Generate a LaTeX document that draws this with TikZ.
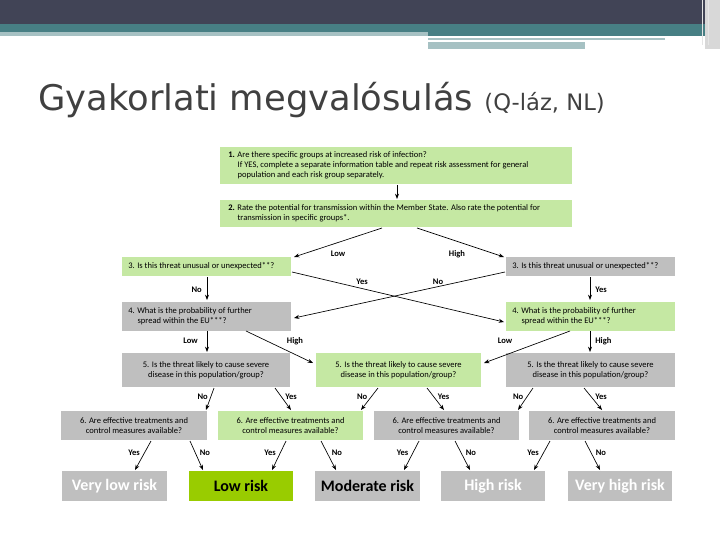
\documentclass[tikz,border=0pt]{standalone}
\usepackage{fontspec}
\setmainfont{Carlito}
\newfontfamily\titlefont{DejaVu Sans}
\usetikzlibrary{arrows.meta}
\definecolor{dk}{HTML}{414456}
\definecolor{teal}{HTML}{477F84}
\definecolor{lt}{HTML}{A6C1C3}
\definecolor{gr}{HTML}{C5E8A3}
\definecolor{gy}{HTML}{BFBFBF}
\definecolor{lime}{HTML}{99CC00}
\tikzset{
 gbox/.style={fill=gr,draw=none},
 ybox/.style={fill=gy,draw=none},
 bt/.style={font=\fontsize{6.4}{7.5}\selectfont,inner sep=0pt},
 ct/.style={font=\fontsize{6.4}{7.5}\selectfont,inner sep=0pt,align=center},
 lab/.style={font=\fontsize{6.4}{7}\selectfont\bfseries,inner sep=0pt},
 arr/.style={-{Stealth[length=4pt,width=3pt]},line width=0.5pt},
 risk/.style={font=\fontsize{12}{13}\selectfont\bfseries,inner sep=0pt}
}
\begin{document}
\begin{tikzpicture}[x=0.75pt,y=-0.75pt]
\useasboundingbox (0,0) rectangle (720,540);
% header
\fill[dk] (0,0) rectangle (720,24);
\fill[teal] (0,24) rectangle (720,32);
\fill[lt] (0,32) rectangle (428,36);
\fill[teal] (428,32) rectangle (720,36);
\fill[lt] (428,38) rectangle (665,40);
\fill[lt] (428,42) rectangle (585,49);
\fill[gy!60] (705,0) rectangle (720,49);
\draw[white!80!gray,line width=0.6pt] (702,0) -- (702,45) (708,0) -- (708,45);
% title
\node[anchor=base west,inner sep=0pt,text=black!75,font=\titlefont\fontsize{26.5}{30}\selectfont] (title) at (38,110) {Gyakorlati megvalósulás {\fontsize{17}{20}\selectfont(Q-láz, NL)}};
% boxes
\fill[gbox] (220,147) rectangle (572,184);
\node[bt,anchor=north west,align=left] (t1) at (228,151) {\textbf{1.} Are there specific groups at increased risk of infection?\\\hspace{7pt}If YES, complete a separate information table and repeat risk assessment for general\\\hspace{7pt}population and each risk group separately.};
\fill[gbox] (220,200) rectangle (572,227);
\node[bt,anchor=north west,align=left] (t2) at (228,204) {\textbf{2.} Rate the potential for transmission within the Member State. Also rate the potential for\\\hspace{7pt}transmission in specific groups*.};
\fill[gbox] (122,257) rectangle (291,276);
\node[bt,anchor=west] (t3l) at (128,266.5) {3. Is this threat unusual or unexpected**?};
\fill[ybox] (506,257) rectangle (675,276);
\node[bt,anchor=west] (t3r) at (512,266.5) {3. Is this threat unusual or unexpected**?};
\fill[ybox] (122,302) rectangle (291,331);
\node[bt,anchor=west,align=left] (t4l) at (128,316.5) {4. What is the probability of further\\\hspace{7pt}spread within the EU***?};
\fill[gbox] (506,302) rectangle (675,331);
\node[bt,anchor=west,align=left] (t4r) at (512,316.5) {4. What is the probability of further\\\hspace{7pt}spread within the EU***?};
\foreach \a/\b/\c [count=\i] in {122/290/ybox,316/481/gbox,506/675/ybox}{
 \fill[\c] (\a,353) rectangle (\b,387);
 \node[ct] (t5\i) at ({(\a+\b)/2},370) {5. Is the threat likely to cause severe\\disease in this population/group?};
}
\foreach \a/\b/\c [count=\i] in {61/207/ybox,218/363/gbox,374/519/ybox,529/675/ybox}{
 \fill[\c] (\a,411) rectangle (\b,440);
 \node[ct] (t6\i) at ({(\a+\b)/2},425.5) {6. Are effective treatments and\\control measures available?};
}
\fill[gy] (62,471) rectangle (167,501); \node[risk,text=white] (r1) at (114.5,486) {Very low risk};
\fill[lime] (189,471) rectangle (293,501); \node[risk,text=black] (r2) at (241,486) {Low risk};
\fill[gy] (315,471) rectangle (420,501); \node[risk,text=black] (r3) at (367.5,486) {Moderate risk};
\fill[gy] (441,471) rectangle (545,501); \node[risk,text=white] (r4) at (493,486) {High risk};
\fill[gy] (568,471) rectangle (672,501); \node[risk,text=white] (r5) at (620,486) {Very high risk};
% arrows
\draw[arr] (397,185) -- (397,199);
\draw[arr] (382,228) -- (294,257);
\draw[arr] (417,228) -- (504,257);
\node[lab] (lLow) at (338,254) {Low};
\node[lab] (lHigh) at (457,254) {High};
\draw[arr] (292,272) -- (504,322);
\draw[arr] (505,272) -- (294,318);
\node[lab] (lY) at (362,282) {Yes};
\node[lab] (lN) at (438,282) {No};
\draw[arr] (207,277) -- (207,300);
\node[lab,anchor=east] (n3) at (202,290) {No};
\draw[arr] (590,277) -- (590,300);
\node[lab,anchor=west] (y3) at (595,290) {Yes};
\draw[arr] (207,331) -- (207,352);
\node[lab,anchor=east] (l4) at (198,341) {Low};
\draw[arr] (246,331) -- (313,363);
\node[lab] (h4) at (295,341) {High};
\draw[arr] (570,331) -- (484,363);
\node[lab] (l4r) at (505,341) {Low};
\draw[arr] (590,331) -- (590,352);
\node[lab,anchor=west] (h4r) at (595,341) {High};
% 5 -> 6
\foreach \ns/\ne/\ys/\ye in {214/206/275/291, 378/361/427/444, 533/518/584/602}{
 \draw[arr] (\ns,388) -- (\ne,410);
 \draw[arr] (\ys,388) -- (\ye,410);
 \node[lab,anchor=east] at ({(\ns+\ne)/2-2},397) {No};
 \node[lab,anchor=west] at ({(\ys+\ye)/2+2},397) {Yes};
}
% 6 -> risk
\foreach \ys/\ye/\ns/\ne in {151/135/190/203, 286/272/321/336, 419/404/455/470, 550/534/585/600}{
 \draw[arr] (\ys,441) -- (\ye,470);
 \draw[arr] (\ns,441) -- (\ne,470);
 \node[lab,anchor=east] at ({(\ys+\ye)/2-3},453) {Yes};
 \node[lab,anchor=west] at ({(\ns+\ne)/2+3},453) {No};
}
\end{tikzpicture}
\end{document}
